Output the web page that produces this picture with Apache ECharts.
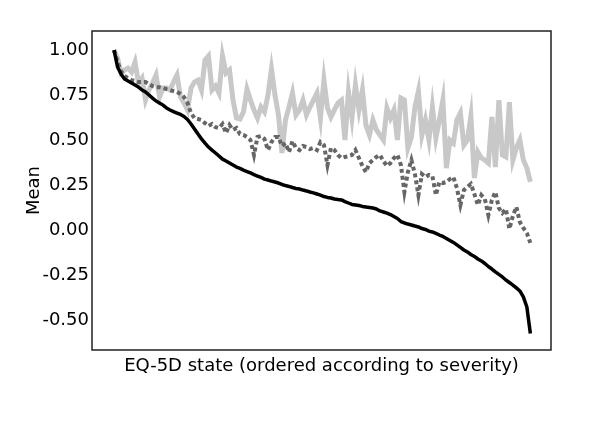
<!DOCTYPE html>
<html>
<head>
<meta charset="utf-8">
<script src="https://cdn.jsdelivr.net/npm/echarts@6/dist/echarts.min.js"></script>
<style>
html,body{margin:0;padding:0;background:#fff;}
#chart{width:600px;height:422px;}
</style>
</head>
<body>
<div id="chart"></div>
<script>
// EQ-5D states ordered according to severity (rank positions)
const stateRank = [];
for (let r = 1; r <= 120; r++) stateRank.push(r);

// Observed mean (black solid line)
const observedMean = [
 1.000, 0.906, 0.867, 0.839, 0.828, 0.817, 0.806, 0.794, 0.778, 0.767,
 0.750, 0.733, 0.717, 0.706, 0.694, 0.678, 0.667, 0.658, 0.650, 0.642,
 0.631, 0.614, 0.589, 0.561, 0.533, 0.506, 0.483, 0.461, 0.444, 0.428,
 0.411, 0.394, 0.383, 0.372, 0.361, 0.350, 0.342, 0.333, 0.325, 0.317,
 0.308, 0.300, 0.292, 0.283, 0.278, 0.272, 0.267, 0.261, 0.253, 0.247,
 0.242, 0.236, 0.231, 0.228, 0.222, 0.217, 0.211, 0.206, 0.200, 0.194,
 0.186, 0.181, 0.178, 0.172, 0.169, 0.167, 0.158, 0.150, 0.142, 0.139,
 0.136, 0.131, 0.128, 0.125, 0.122, 0.117, 0.106, 0.100, 0.094, 0.086,
 0.075, 0.064, 0.047, 0.039, 0.033, 0.028, 0.022, 0.017, 0.008, 0.003,
 -0.006, -0.011, -0.019, -0.028, -0.036, -0.047, -0.058, -0.069, -0.083, -0.097,
 -0.111, -0.122, -0.136, -0.147, -0.161, -0.172, -0.186, -0.203, -0.217, -0.233,
 -0.247, -0.261, -0.278, -0.292, -0.306, -0.322, -0.339, -0.372, -0.428, -0.575
];

// Light gray solid line
const lightMean = [
 1.000, 0.956, 0.872, 0.889, 0.900, 0.878, 0.933, 0.817, 0.844, 0.722,
 0.778, 0.817, 0.861, 0.739, 0.789, 0.789, 0.778, 0.822, 0.861, 0.739,
 0.706, 0.667, 0.789, 0.822, 0.833, 0.778, 0.944, 0.967, 0.778, 0.800,
 0.761, 0.967, 0.872, 0.889, 0.722, 0.622, 0.617, 0.656, 0.783, 0.722,
 0.667, 0.622, 0.683, 0.656, 0.750, 0.894, 0.750, 0.639, 0.428, 0.611,
 0.683, 0.761, 0.639, 0.667, 0.722, 0.639, 0.683, 0.722, 0.761, 0.622,
 0.833, 0.678, 0.628, 0.667, 0.706, 0.722, 0.500, 0.767, 0.622, 0.806,
 0.667, 0.778, 0.583, 0.528, 0.611, 0.556, 0.528, 0.500, 0.678, 0.622,
 0.667, 0.500, 0.733, 0.722, 0.456, 0.517, 0.683, 0.772, 0.528, 0.611,
 0.500, 0.683, 0.511, 0.611, 0.722, 0.344, 0.500, 0.483, 0.611, 0.650,
 0.472, 0.500, 0.633, 0.289, 0.433, 0.400, 0.389, 0.372, 0.628, 0.350,
 0.722, 0.417, 0.406, 0.711, 0.389, 0.456, 0.500, 0.389, 0.344, 0.267
];

// Dark gray dashed line
const dashedMean = [
 1.000, 0.933, 0.883, 0.856, 0.844, 0.833, 0.828, 0.822, 0.822, 0.822,
 0.811, 0.800, 0.794, 0.794, 0.789, 0.783, 0.778, 0.772, 0.767, 0.756,
 0.739, 0.706, 0.650, 0.622, 0.617, 0.611, 0.594, 0.578, 0.589, 0.572,
 0.567, 0.589, 0.539, 0.583, 0.556, 0.567, 0.533, 0.528, 0.517, 0.500,
 0.417, 0.517, 0.522, 0.506, 0.444, 0.489, 0.517, 0.517, 0.467, 0.483,
 0.433, 0.494, 0.456, 0.444, 0.467, 0.461, 0.450, 0.456, 0.444, 0.489,
 0.472, 0.361, 0.456, 0.444, 0.417, 0.400, 0.406, 0.411, 0.417, 0.444,
 0.400, 0.356, 0.322, 0.372, 0.389, 0.406, 0.417, 0.383, 0.356, 0.372,
 0.400, 0.417, 0.361, 0.211, 0.322, 0.389, 0.311, 0.194, 0.311, 0.294,
 0.306, 0.300, 0.194, 0.267, 0.261, 0.267, 0.283, 0.294, 0.233, 0.139,
 0.222, 0.239, 0.256, 0.200, 0.139, 0.194, 0.172, 0.083, 0.167, 0.211,
 0.122, 0.094, 0.117, 0.006, 0.078, 0.128, 0.044, 0.011, -0.017, -0.072
];

const yTickValues = [-0.5, -0.25, 0, 0.25, 0.5, 0.75, 1.0];

const pairs = arr => stateRank.map((r, i) => [r, arr[i]]);
const FONT = 'DejaVu Sans';

const chart = echarts.init(document.getElementById('chart'), null, {renderer: 'canvas'});
chart.setOption({
  animation: false,
  backgroundColor: '#fff',
  grid: {
    left: 92, top: 31, right: 49, bottom: 72,
    show: true, borderColor: '#222', borderWidth: 1.5, backgroundColor: 'transparent'
  },
  xAxis: {
    type: 'value',
    min: -5.3, max: 125.9,
    axisLine: {show: false},
    axisTick: {show: false},
    axisLabel: {show: false},
    splitLine: {show: false},
    name: 'EQ-5D state (ordered according to severity)',
    nameLocation: 'middle',
    nameGap: 7,
    nameMoveOverlap: false,
    nameTextStyle: {fontFamily: FONT, fontSize: 18, color: '#000', verticalAlign: 'top'}
  },
  yAxis: {
    type: 'value',
    min: -0.667, max: 1.106,
    axisLine: {show: false},
    axisTick: {show: false},
    splitLine: {show: false},
    axisLabel: {
      customValues: yTickValues,
      margin: 3,
      fontFamily: FONT, fontSize: 18, color: '#000',
      formatter: v => v.toFixed(2)
    },
    name: 'Mean',
    nameLocation: 'middle',
    nameGap: 49,
    nameRotate: 90,
    nameMoveOverlap: false,
    nameTextStyle: {fontFamily: FONT, fontSize: 18, color: '#000'}
  },
  series: [
    {
      name: 'Light', type: 'line', data: pairs(lightMean), showSymbol: false,
      lineStyle: {color: '#c8c8c8', width: 5, join: 'miter'}, z: 2
    },
    {
      name: 'Dashed', type: 'line', data: pairs(dashedMean), showSymbol: false,
      lineStyle: {color: '#666666', width: 4, type: [4, 3], join: 'miter', cap: 'butt'}, z: 3
    },
    {
      name: 'Observed', type: 'line', data: pairs(observedMean), showSymbol: false,
      lineStyle: {color: '#000000', width: 3.5}, z: 4
    }
  ]
});
</script>
</body>
</html>
